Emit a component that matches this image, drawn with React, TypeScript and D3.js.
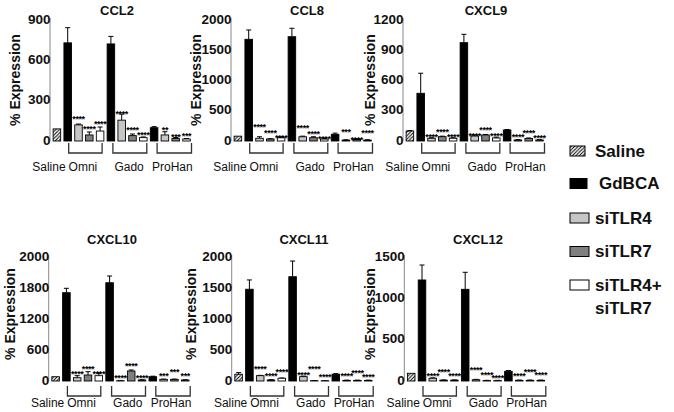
import React, { useEffect } from "react";
import * as d3 from "d3";

// ---- categories ----
const legendNames = ["Saline", "GdBCA", "siTLR4", "siTLR7", "siTLR4+ siTLR7"];
const groupNames = ["Saline", "Omni", "Gado", "ProHan"];
const panelTitles = ["CCL2", "CCL8", "CXCL9", "CXCL10", "CXCL11", "CXCL12"];
// bar order: Saline, Omni[GdBCA, siTLR4, siTLR7, siTLR4+7], Gado[...], ProHan[...]

// ---- CCL2 ----
const ccl2Values = [90, 730, 120, 45, 74, 722, 155, 40, 25, 99, 45, 18, 15];
const ccl2Errors = [0, 113, 6, 22, 30, 56, 45, 12, 5, 8, 24, 8, 3];
const ccl2Stars = [null, null, 181, 106, 144, null, 218, 99, 62, null, 99, 45, 57];
const ccl2StarLabels = ["", "", "****", "****", "****", "", "****", "****", "****", "", "**", "***", "***"];
const ccl2Ticks = [0, 300, 600, 900];
const ccl2TickLabels = ["0", "300", "600", "900"];

// ---- CCL8 ----
const ccl8Values = [80, 1681, 45, 33, 55, 1724, 70, 55, 33, 110, 15, 25, 15];
const ccl8Errors = [0, 154, 25, 5, 10, 139, 10, 15, 10, 20, 5, 10, 5];
const ccl8Stars = [null, null, 264, 170, 88, null, 248, 154, 71, null, 193, 55, 165];
const ccl8StarLabels = ["", "", "****", "****", "****", "", "****", "****", "****", "", "***", "****", "****"];
const ccl8Ticks = [0, 500, 1000, 1500, 2000];
const ccl8TickLabels = ["0", "500", "1000", "1500", "2000"];

// ---- CXCL9 ----
const cxcl9Values = [99, 473, 27, 43, 27, 975, 50, 60, 30, 109, 10, 25, 10];
const cxcl9Errors = [5, 199, 5, 5, 5, 83, 10, 5, 8, 5, 3, 5, 3];
const cxcl9Stars = [null, null, 66, 116, 66, null, 76, 126, 76, null, 60, 99, 50];
const cxcl9StarLabels = ["", "", "****", "****", "****", "", "****", "****", "****", "", "****", "****", "****"];
const cxcl9Ticks = [0, 300, 600, 900, 1200];
const cxcl9TickLabels = ["0", "300", "600", "900", "1200"];

// ---- CXCL10 ----
const cxcl10Values = [83, 1709, 64, 116, 103, 1902, 6, 194, 19, 83, 32, 32, 19];
const cxcl10Errors = [0, 85, 39, 64, 46, 130, 5, 19, 5, 10, 5, 5, 5];
const cxcl10Stars = [null, null, 180, 277, 180, null, 103, 342, 103, null, 149, 213, 135];
const cxcl10StarLabels = ["", "", "****", "****", "****", "", "****", "****", "****", "", "***", "***", "***"];
const cxcl10Ticks = [0, 600, 1200, 1800, 2400];
const cxcl10TickLabels = ["0", "600", "1200", "1800", "2000"];

// ---- CXCL11 ----
const cxcl11Values = [109, 1480, 86, 16, 44, 1682, 70, 5, 5, 109, 10, 10, 10];
const cxcl11Errors = [26, 150, 5, 5, 5, 253, 8, 3, 3, 10, 3, 3, 3];
const cxcl11Stars = [null, null, 230, 113, 177, null, 134, 230, 97, null, 113, 166, 97];
const cxcl11StarLabels = ["", "", "****", "****", "****", "", "****", "****", "****", "", "****", "****", "****"];
const cxcl11Ticks = [0, 500, 1000, 1500, 2000];
const cxcl11TickLabels = ["0", "500", "1000", "1500", "2000"];

// ---- CXCL12 ----
const cxcl12Values = [93, 1222, 33, 10, 10, 1109, 15, 5, 5, 117, 8, 8, 8];
const cxcl12Errors = [0, 181, 5, 3, 3, 206, 5, 3, 3, 10, 3, 3, 3];
const cxcl12Stars = [null, null, 85, 133, 85, null, 154, 101, 61, null, 85, 133, 100];
const cxcl12StarLabels = ["", "", "****", "****", "****", "", "****", "****", "****", "", "****", "****", "****"];
const cxcl12Ticks = [0, 500, 1000, 1500];
const cxcl12TickLabels = ["0", "500", "1000", "1500"];

const panelData = [
  { values: ccl2Values, errors: ccl2Errors, stars: ccl2Stars, starLabels: ccl2StarLabels, ticks: ccl2Ticks, tickLabels: ccl2TickLabels },
  { values: ccl8Values, errors: ccl8Errors, stars: ccl8Stars, starLabels: ccl8StarLabels, ticks: ccl8Ticks, tickLabels: ccl8TickLabels },
  { values: cxcl9Values, errors: cxcl9Errors, stars: cxcl9Stars, starLabels: cxcl9StarLabels, ticks: cxcl9Ticks, tickLabels: cxcl9TickLabels },
  { values: cxcl10Values, errors: cxcl10Errors, stars: cxcl10Stars, starLabels: cxcl10StarLabels, ticks: cxcl10Ticks, tickLabels: cxcl10TickLabels },
  { values: cxcl11Values, errors: cxcl11Errors, stars: cxcl11Stars, starLabels: cxcl11StarLabels, ticks: cxcl11Ticks, tickLabels: cxcl11TickLabels },
  { values: cxcl12Values, errors: cxcl12Errors, stars: cxcl12Stars, starLabels: cxcl12StarLabels, ticks: cxcl12Ticks, tickLabels: cxcl12TickLabels },
];

// ---- layout (positions only) ----
const layouts = [
  { axisX: 50, top: 20, base: 141, titleX: 117, titleY: 10, ylabX: 15, ylabY: 80, brTop: 143, brBot: 153, labY: 167 },
  { axisX: 231, top: 20, base: 141, titleX: 307, titleY: 10, ylabX: 196, ylabY: 80, brTop: 143, brBot: 153, labY: 167 },
  { axisX: 403, top: 20, base: 141, titleX: 486, titleY: 10, ylabX: 370, ylabY: 80, brTop: 143, brBot: 153, labY: 167 },
  { axisX: 48.7, top: 257, base: 381, titleX: 112, titleY: 239, ylabX: 10, ylabY: 314, brTop: 386, brBot: 396, labY: 403 },
  { axisX: 231.7, top: 257, base: 381, titleX: 304, titleY: 239, ylabX: 191, ylabY: 314, brTop: 386, brBot: 396, labY: 403 },
  { axisX: 404.3, top: 257, base: 381, titleX: 478, titleY: 239, ylabX: 370, ylabY: 314, brTop: 386, brBot: 396, labY: 403 },
];

const FONT = "Arial, 'Liberation Sans', Helvetica, sans-serif";
const fills = ["url(#hatch)", "#000000", "#c6c6c6", "#7f7f7f", "#ffffff"];
const fillIndex = (i: number) => (i === 0 ? 0 : ((i - 1) % 4) + 1);
const groupLabelOffsets = [-8, -1, 2, 2];

function Panel({ idx }: { idx: number }) {
  const d = panelData[idx];
  const L = layouts[idx];
  const n = d.values.length;
  const x = d3
    .scaleBand<number>()
    .domain(d3.range(n))
    .range([L.axisX + 1.5, L.axisX + 1.5 + 140.4])
    .paddingInner(0.3)
    .paddingOuter(0.15);
  const y = d3
    .scaleLinear()
    .domain([0, d.ticks[d.ticks.length - 1]])
    .range([L.base, L.top]);
  const bw = x.bandwidth();
  const cx = (i: number) => (x(i) as number) + bw / 2;
  const groups = [[0], [1, 2, 3, 4], [5, 6, 7, 8], [9, 10, 11, 12]];

  return (
    <g>
      <text x={L.titleX} y={L.titleY} textAnchor="middle" dominantBaseline="central" fontFamily={FONT} fontWeight="bold" fontSize={13} fill="#111">
        {panelTitles[idx]}
      </text>
      <text
        transform={`translate(${L.ylabX},${L.ylabY}) rotate(-90)`}
        textAnchor="middle"
        dominantBaseline="central"
        fontFamily={FONT}
        fontWeight="bold"
        fontSize={14}
        fill="#111"
      >
        % Expression
      </text>
      <line x1={L.axisX} x2={L.axisX} y1={L.top - 2} y2={L.base} stroke="#8a8a8a" strokeWidth={1} />
      {d.ticks.map((t, k) => (
        <text key={k} x={L.axisX + 0.5} y={y(t) - 1} textAnchor="end" dominantBaseline="central" fontFamily={FONT} fontWeight="bold" fontSize={13.5} fill="#111">
          {d.tickLabels[k]}
        </text>
      ))}
      {d.values.map((v, i) => {
        const xi = x(i) as number;
        const yv = y(v);
        const e = d.errors[i];
        return (
          <g key={i}>
            {e > 0 && (
              <g stroke="#000" strokeWidth={1}>
                <line x1={cx(i)} x2={cx(i)} y1={yv} y2={y(v + e)} />
                <line x1={cx(i) - 2.5} x2={cx(i) + 2.5} y1={y(v + e)} y2={y(v + e)} />
              </g>
            )}
            <rect x={xi} y={yv} width={bw} height={L.base - yv} fill={fills[fillIndex(i)]} stroke="#000" strokeWidth={0.9} />
          </g>
        );
      })}
      {d.stars.map((s, i) =>
        s == null ? null : (
          <text key={"s" + i} x={cx(i)} y={y(s) + 5.2} textAnchor="middle" fontFamily={FONT} fontWeight="bold" fontSize={9} letterSpacing={-0.4}>
            {d.starLabels[i]}
          </text>
        )
      )}
      {groups.slice(1).map((g, k) => {
        const x1 = cx(g[0]) + 1 + k;
        const x2 = cx(g[g.length - 1]) + 2 + k * 1.5;
        return (
          <path
            key={"b" + k}
            d={`M${x1},${L.brTop} V${L.brBot} H${x2} V${L.brTop}`}
            fill="none"
            stroke="#333"
            strokeWidth={1.3}
          />
        );
      })}
      {groups.map((g, k) => {
        const c = (cx(g[0]) + cx(g[g.length - 1])) / 2 + groupLabelOffsets[k];
        return (
          <text key={"l" + k} x={c} y={L.labY} textAnchor="middle" dominantBaseline="central" fontFamily={FONT} fontSize={12} fill="#111">
            {groupNames[k]}
          </text>
        );
      })}
    </g>
  );
}

function Legend() {
  const ys = [151, 183.5, 218, 251.5, 285];
  const textX = [595, 599, 595, 595, 595];
  const sw = [15, 17, 19, 19, 19];
  return (
    <g>
      {legendNames.map((name, i) => {
        const parts = name.split(" ");
        return (
          <g key={i}>
            <rect x={570} y={ys[i] - 5} width={sw[i]} height={10} fill={fills[i]} stroke="#000" strokeWidth={1} />
            {parts.map((p, k) => (
              <text key={k} x={textX[i]} y={ys[i] + k * 23.5} dominantBaseline="central" fontFamily={FONT} fontWeight="bold" fontSize={17} fill="#111">
                {p}
              </text>
            ))}
          </g>
        );
      })}
    </g>
  );
}

export default function App() {
  useEffect(() => {
    document.body.style.margin = "0";
  }, []);
  return (
    <svg width={674} height={412} style={{ position: "absolute", left: 0, top: 0, background: "#fff" }}>
      <defs>
        <pattern id="hatch" patternUnits="userSpaceOnUse" width={3.5} height={3.5}>
          <rect width={3.5} height={3.5} fill="#fff" />
          <path d="M-1,1 L1,-1 M0,3.5 L3.5,0 M2.5,4.5 L4.5,2.5" stroke="#000" strokeWidth={1} />
        </pattern>
      </defs>
      <rect width={674} height={412} fill="#fff" />
      {panelData.map((_, i) => (
        <Panel key={i} idx={i} />
      ))}
      <Legend />
    </svg>
  );
}
